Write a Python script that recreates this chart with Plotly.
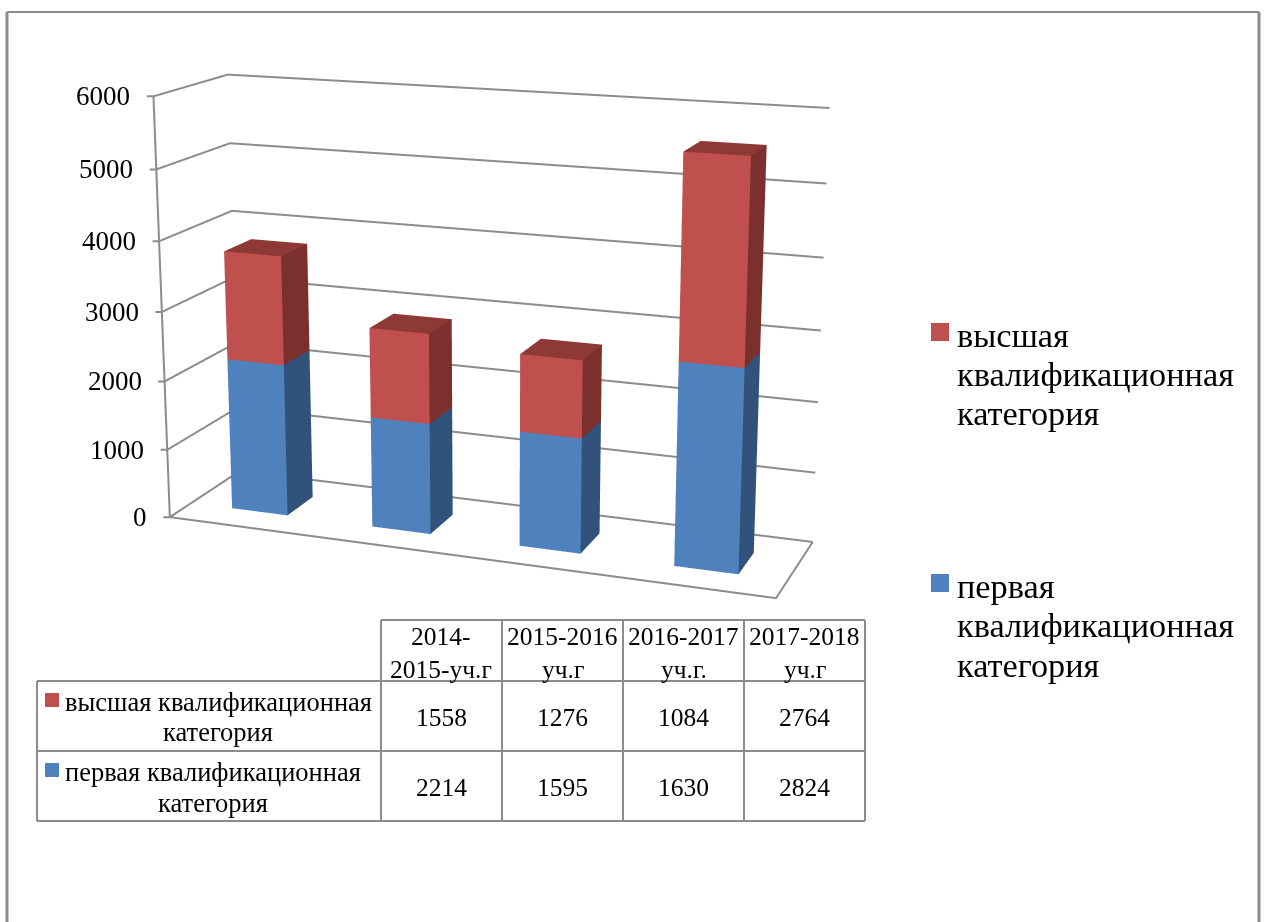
import plotly.graph_objects as go

categories = ["2014-\n2015-уч.г", "2015-2016\nуч.г", "2016-2017\nуч.г.", "2017-2018\nуч.г"]
first_category = [2214, 1595, 1630, 2824]
highest_category = [1558, 1276, 1084, 2764]
z_ticks = [0, 1000, 2000, 3000, 4000, 5000, 6000]
series_first = "первая квалификационная категория"
series_highest = "высшая квалификационная категория"

W, WINDOW_H = 1264, 922
# The 3D scene's view is centred on the chart, so the page is shifted up inside the window.
H, SHIFT = 1800, 590
EYE = dict(x=1.1486, y=-3.0586, z=0.8541)
CENTER = dict(x=0.0074, y=0.0115, z=0.0157)
UP = dict(x=0.0016, y=0, z=1)
ASPECT = dict(x=1, y=0.2497, z=0.6859)
BAR_HALF, BAR_Y0, BAR_Y1 = 0.2003, 0.2948, 0.6802

RED, RED_SIDE, RED_TOP = "#c0504d", "#7b302e", "#8f3937"
BLUE, BLUE_SIDE, BLUE_TOP = "#4f81bd", "#31527a", "#3a6090"
GRID = "#8c8c8c"
SERIF = "Liberation Serif"
fig = go.Figure()


def boxes(bases, heights, front, side, top, name):
    X, Y, Z, I, J, K, C = [], [], [], [], [], [], []
    for n, (b, h) in enumerate(zip(bases, heights)):
        xl, xr = n + .5 - BAR_HALF, n + .5 + BAR_HALF
        v = len(X)
        for zz in (b, b + h):
            for xx, yy in ((xl, BAR_Y0), (xr, BAR_Y0), (xr, BAR_Y1), (xl, BAR_Y1)):
                X.append(xx); Y.append(yy); Z.append(zz)
        faces = [((0, 1, 5), front), ((0, 5, 4), front), ((1, 2, 6), side), ((1, 6, 5), side), ((4, 5, 6), top), ((4, 6, 7), top),
                 ((3, 2, 6), side), ((3, 6, 7), side), ((0, 3, 7), side), ((0, 7, 4), side)]
        for (a, bb, cc), col in faces:
            I.append(v + a); J.append(v + bb); K.append(v + cc); C.append(col)
    fig.add_trace(go.Mesh3d(x=X, y=Y, z=Z, i=I, j=J, k=K, facecolor=C, flatshading=True, name=name, hoverinfo="skip",
                            lighting=dict(ambient=1, diffuse=0, specular=0, fresnel=0, roughness=1), showscale=False))


n_cat = len(categories)
boxes([0] * n_cat, first_category, BLUE, BLUE_SIDE, BLUE_TOP, series_first)
boxes(first_category, highest_category, RED, RED_SIDE, RED_TOP, series_highest)
gx, gy, gz = [], [], []
for t in z_ticks:
    gx += [0, 0, n_cat, None]; gy += [0, 1, 1, None]; gz += [t, t, t, None]
line3d = dict(mode="lines", line=dict(color=GRID, width=4), hoverinfo="skip", showlegend=False)
fig.add_trace(go.Scatter3d(x=gx, y=gy, z=gz, **line3d))
fig.add_trace(go.Scatter3d(x=[0, n_cat, n_cat], y=[0, 0, 1], z=[0, 0, 0], **line3d))
fig.add_trace(go.Scatter3d(x=[0, 0], y=[0, 0], z=[z_ticks[0], z_ticks[-1]], **line3d))

hidden = dict(showgrid=False, zeroline=False, showline=False, showticklabels=False, showbackground=False, showspikes=False, title="", ticks="")
ann3d = []
for t in z_ticks:
    ann3d.append(dict(x=0, y=0, z=t, text=str(t), showarrow=False, xanchor="right", yanchor="middle", xshift=-21, font=dict(family=SERIF, size=27, color="black")))
    ann3d.append(dict(x=0, y=0, z=t, text=" ", showarrow=True, arrowhead=0, arrowwidth=2, arrowcolor=GRID, ax=-8, ay=0, font=dict(size=1)))
fig.update_layout(
    width=W, height=H, margin=dict(l=0, r=0, t=0, b=0), paper_bgcolor="white", showlegend=False,
    font=dict(family=SERIF, color="black"),
    scene=dict(domain=dict(x=[0, 0.78], y=[0, 1]), aspectmode="manual", aspectratio=ASPECT,
               camera=dict(eye=EYE, center=CENTER, up=UP),
               xaxis=dict(range=[0, n_cat], **hidden), yaxis=dict(range=[0, 1], **hidden), zaxis=dict(range=[z_ticks[0], z_ticks[-1]], **hidden),
               annotations=ann3d),
)


def fy(y):
    return 1 - (y + SHIFT) / H


def line(x0, y0_, x1, y1_, width=2, color=GRID):
    fig.add_shape(type="line", xref="paper", yref="paper", x0=x0 / W, x1=x1 / W, y0=fy(y0_), y1=fy(y1_), line=dict(color=color, width=width))


def text(x, y, s, size=25.5, anchor="center"):
    fig.add_annotation(xref="paper", yref="paper", x=x / W, y=fy(y), text=s, showarrow=False, xanchor=anchor, yanchor="middle", font=dict(size=size, family=SERIF, color="black"))


def swatch(x0, y0_, x1, y1_, color):
    fig.add_shape(type="rect", xref="paper", yref="paper", x0=x0 / W, x1=x1 / W, y0=fy(y0_), y1=fy(y1_), fillcolor=color, line=dict(width=0))


line(7, WINDOW_H, 7, 12, 3); line(7, 12, 1259, 12, 2); line(1259, 12, 1259, WINDOW_H, 3)
cols = [381, 502, 623, 744, 865]; rows = [620, 681, 751, 821]
for x in cols:
    line(x, rows[0], x, rows[3])
line(37, rows[1], 37, rows[3])
line(cols[0], rows[0], cols[-1], rows[0]); line(37, rows[1], cols[-1], rows[1]); line(37, rows[2], cols[-1], rows[2]); line(37, rows[3], cols[-1], rows[3])
for n, c_ in enumerate(categories):
    xc_ = (cols[n] + cols[n + 1]) / 2
    a, b = c_.split("\n")
    text(xc_, 636, a); text(xc_, 669, b)
    text(xc_, 717, str(highest_category[n])); text(xc_, 787, str(first_category[n]))


def split_name(name):
    w = name.split(" ")
    return w[0], w[1], w[2]


swatch(45, 693, 59, 707, RED); swatch(45, 763, 59, 777, BLUE)
h1, h2, h3 = split_name(series_highest)
f1, f2, f3 = split_name(series_first)
text(218, 702, h1 + " " + h2, 26.5); text(218, 732, h3, 26.5)
text(213, 772, f1 + " " + f2, 26.5); text(213, 803, f3, 26.5)
swatch(931, 323, 949, 341, RED); swatch(931, 574, 949, 592, BLUE)
for y, s in ((335, h1), (374, h2), (413, h3)):
    text(955, y, s, 34.3, "left")
for y, s in ((586, f1), (625, f2), (665, f3)):
    text(955, y, s, 34.3, "left")
fig.write_html("out.html", config=dict(displayModeBar=False),
               post_script="document.documentElement.style.overflow='hidden';document.body.style.margin='-%dpx 0 0 0';" % SHIFT)
